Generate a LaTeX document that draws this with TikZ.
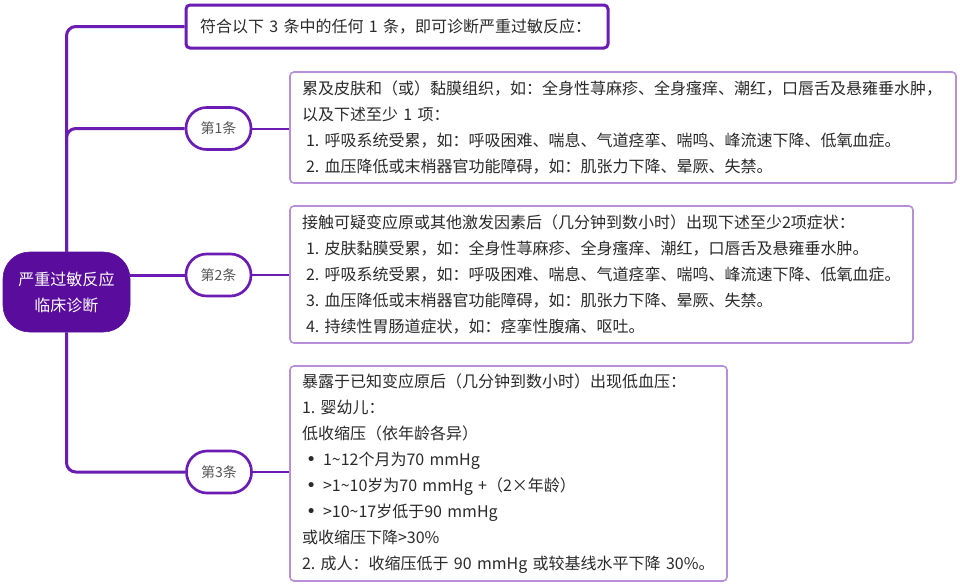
\documentclass[tikz,border=0pt]{standalone}
\usepackage{fontspec}
\setmainfont[WordSpace=0.7]{Noto Sans CJK SC}
\newfontfamily\bulletfont{DejaVu Sans}
\usetikzlibrary{backgrounds}
\definecolor{trunk}{HTML}{6B1CB2}
\definecolor{rootfill}{HTML}{5A0C9C}
\definecolor{lightbox}{HTML}{B68FD8}
\definecolor{txt}{HTML}{2A2A2A}
\definecolor{ovaltxt}{HTML}{555555}
\tikzset{
  branch/.style={draw=trunk, line width=2.25pt, rounded corners=7pt},
  twig/.style={draw=trunk, line width=1.5pt},
  rootbox/.style={fill=rootfill, draw=rootfill, text=white, rounded corners=20pt,
    minimum width=95.25pt, minimum height=60pt, align=center,
    font=\fontsize{12pt}{19.5pt}\selectfont, inner sep=0pt},
  ovalbox/.style={draw=trunk, fill=white, line width=2pt, rounded corners=15.5pt,
    minimum width=48.75pt, minimum height=31.5pt, inner sep=0pt, text=ovaltxt,
    font=\fontsize{10.5pt}{12pt}\selectfont},
  topbox/.style={draw=trunk, fill=white, line width=2.25pt, rounded corners=3pt,
    minimum width=316.5pt, minimum height=32.25pt, inner xsep=10.5pt, inner ysep=0pt,
    text width=295.5pt, align=left, text=txt, font=\fontsize{12pt}{19.5pt}\selectfont},
  infobox/.style={draw=lightbox, fill=white, line width=1.2pt, rounded corners=3pt,
    inner xsep=9pt, inner ysep=0pt, align=left, text=txt,
    font=\fontsize{12pt}{19.5pt}\selectfont},
}
\newcommand{\ind}{\hspace*{3pt}}
\newcommand{\bul}{\makebox[15.75pt][l]{\hspace*{3pt}{\bulletfont\fontsize{13pt}{10pt}\selectfont •}}}
\begin{document}
\begin{tikzpicture}[x=0.75pt,y=-0.75pt]
\useasboundingbox (0,0) rectangle (960,583);

\node[rootbox] (root) at (66.5,292) {严重过敏反应\\临床诊断};

\node[topbox] (top) at (397,26.5) {符合以下~3~条中的任何~1~条，即可诊断严重过敏反应：};

\node[ovalbox] (o1) at (218.5,128.5) {第1条};
\node[ovalbox] (o2) at (218.5,275) {第2条};
\node[ovalbox] (o3) at (219,472) {第3条};

\node[infobox, minimum width=499.5pt, minimum height=83.25pt, text width=481.5pt] (b1) at (623,127.5)
{累及皮肤和（或）黏膜组织，如：全身性荨麻疹、全身瘙痒、潮红，口唇舌及悬雍垂水肿，\\
以及下述至少~1~项：\\
\ind 1.~呼吸系统受累，如：呼吸困难、喘息、气道痉挛、喘鸣、峰流速下降、低氧血症。\\
\ind 2.~血压降低或末梢器官功能障碍，如：肌张力下降、晕厥、失禁。};

\node[infobox, minimum width=467.25pt, minimum height=102.75pt, text width=449.25pt] (b2) at (601.5,274.5)
{接触可疑变应原或其他激发因素后（几分钟到数小时）出现下述至少2项症状：\\
\ind 1.~皮肤黏膜受累，如：全身性荨麻疹、全身瘙痒、潮红，口唇舌及悬雍垂水肿。\\
\ind 2.~呼吸系统受累，如：呼吸困难、喘息、气道痉挛、喘鸣、峰流速下降、低氧血症。\\
\ind 3.~血压降低或末梢器官功能障碍，如：肌张力下降、晕厥、失禁。\\
\ind 4.~持续性胃肠道症状，如：痉挛性腹痛、呕吐。};

\node[infobox, minimum width=327.75pt, minimum height=161.25pt, text width=309.75pt] (b3) at (508.5,473.5)
{暴露于已知变应原后（几分钟到数小时）出现低血压：\\
1.~婴幼儿：\\
低收缩压（依年龄各异）\\
\bul 1\textasciitilde 12个月为70~mmHg\\
\bul >1\textasciitilde 10岁为70~mmHg~+（2×年龄）\\
\bul >10\textasciitilde 17岁低于90~mmHg\\
或收缩压下降>30\%\\
2.~成人：收缩压低于~90~mmHg~或较基线水平下降~30\%。};

\begin{scope}[on background layer]
\fill[white] (0,0) rectangle (960,583);
\draw[branch] (top.west) -| (root.north);
\draw[branch] (o1.west) -| (root.north);
\draw[branch] (o3.west) -| (root.south);
\draw[branch] (o2.west) -- (o2.west -| root.east);
\draw[twig] (o1.east) -- (o1.east -| b1.west);
\draw[twig] (o2.east) -- (o2.east -| b2.west);
\draw[twig] (o3.east) -- (o3.east -| b3.west);
\end{scope}
\end{tikzpicture}
\end{document}
